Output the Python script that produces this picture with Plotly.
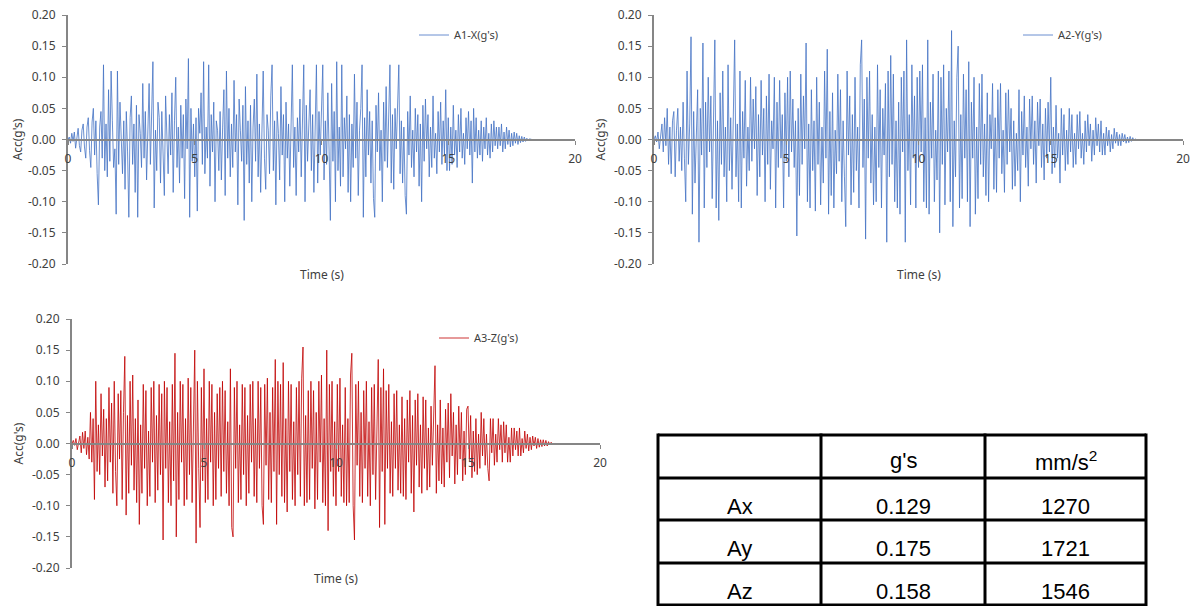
import numpy as np
import plotly.graph_objects as go

DT = 0.05  # sampling step of the hand-read traces (s)

a1_x = [
    0.000, 0.004, -0.006, 0.010, -0.003, 0.012, -0.014, 0.006, 0.018, -0.010, -0.020, 0.015, 0.025, -0.012, -0.030, 0.020, 0.035, -0.018, -0.045, 0.028,
    0.050, -0.025, 0.030, -0.055, -0.105, 0.020, 0.045, -0.030, 0.120, -0.050, 0.025, -0.060, 0.080, -0.035, 0.110, 0.030, -0.045, -0.015, -0.120, 0.110,
    -0.040, 0.060, 0.015, -0.055, 0.030, -0.080, 0.045, -0.020, -0.125, 0.035, 0.070, -0.040, 0.025, -0.085, 0.055, -0.125, 0.040, 0.010, -0.045, 0.090,
    -0.030, 0.045, -0.065, 0.020, 0.090, -0.040, 0.030, 0.125, -0.110, 0.015, -0.050, 0.060, 0.035, -0.070, 0.045, -0.020, -0.090, 0.070, 0.010, -0.055,
    0.040, -0.025, 0.075, -0.085, 0.030, 0.100, -0.045, 0.020, -0.070, 0.055, -0.030, 0.040, -0.095, 0.065, -0.015, 0.130, -0.125, 0.050, -0.035, 0.025,
    -0.060, 0.035, -0.115, 0.050, 0.010, 0.075, -0.040, 0.125, -0.055, 0.020, -0.030, 0.120, -0.075, 0.040, -0.020, 0.060, -0.100, 0.030, 0.015, -0.050,
    0.045, -0.065, 0.020, 0.080, -0.090, 0.110, -0.030, 0.050, -0.060, 0.025, -0.045, 0.095, -0.020, 0.040, -0.105, 0.065, 0.015, -0.035, 0.055, -0.130,
    0.085, -0.040, 0.030, -0.070, 0.055, -0.100, 0.020, 0.065, -0.035, 0.105, -0.060, 0.025, -0.085, 0.045, 0.110, -0.030, -0.080, 0.040, 0.015, -0.055,
    0.070, 0.120, -0.050, 0.030, -0.105, 0.045, 0.010, -0.065, 0.085, -0.025, 0.040, -0.100, 0.060, -0.030, 0.025, -0.075, 0.050, 0.120, -0.045, 0.020,
    -0.090, 0.035, -0.020, 0.065, -0.060, 0.030, 0.120, -0.100, 0.055, -0.035, 0.015, 0.080, -0.050, 0.040, -0.085, 0.025, 0.120, -0.070, 0.045, -0.025,
    0.060, 0.120, -0.065, 0.030, -0.040, 0.075, -0.020, -0.130, 0.090, -0.035, 0.045, -0.100, 0.125, -0.050, 0.020, -0.075, 0.120, -0.060, 0.035, -0.015,
    0.070, -0.085, 0.040, -0.100, 0.025, -0.045, 0.105, -0.030, 0.060, -0.090, 0.015, 0.050, 0.120, -0.125, 0.035, -0.060, 0.080, -0.025, 0.045, -0.070,
    0.030, -0.095, -0.125, 0.055, -0.020, 0.075, -0.050, 0.015, -0.100, 0.060, -0.035, 0.085, -0.045, 0.025, 0.120, -0.070, 0.040, -0.080, 0.050, -0.015,
    0.065, 0.120, -0.055, 0.030, -0.070, 0.020, -0.090, -0.120, 0.045, -0.025, 0.070, -0.045, 0.015, -0.060, 0.050, -0.020, 0.040, -0.075, 0.025, -0.100,
    0.055, -0.035, 0.065, -0.015, 0.040, -0.060, 0.020, -0.045, 0.070, -0.030, 0.010, -0.055, 0.045, -0.020, 0.060, -0.040, 0.030, -0.025, 0.080, -0.050,
    0.035, -0.050, 0.020, -0.040, 0.055, -0.025, 0.015, -0.045, 0.040, -0.020, 0.050, -0.030, 0.010, -0.040, 0.035, -0.015, 0.045, -0.025, 0.030, -0.070,
    0.050, -0.020, 0.035, -0.030, 0.015, -0.025, 0.030, -0.035, 0.020, -0.015, 0.035, -0.025, 0.010, -0.030, 0.025, -0.020, 0.030, -0.010, 0.020, -0.015,
    0.020, -0.010, 0.025, -0.020, 0.012, -0.015, 0.020, -0.008, 0.015, -0.012, 0.010, -0.010, 0.012, -0.006, 0.010, -0.008, 0.006, -0.005, 0.005, -0.004,
    0.004, -0.003, 0.002, -0.002, 0.001, 0.000, 0.000,
]

a2_y = [
    0.000, 0.006, -0.004, 0.012, -0.015, 0.008, 0.025, -0.020, 0.035, -0.010, 0.050, -0.040, 0.020, -0.055, 0.030, 0.045, -0.060, 0.015, 0.050, -0.035,
    0.020, -0.050, 0.060, -0.030, -0.100, 0.110, -0.040, 0.025, 0.165, -0.120, 0.045, -0.070, 0.030, 0.080, -0.165, 0.050, -0.025, 0.155, -0.110, 0.060,
    -0.045, 0.100, -0.020, 0.070, -0.095, 0.040, 0.160, -0.110, 0.030, -0.130, 0.075, -0.040, 0.110, -0.060, 0.020, -0.100, 0.120, -0.050, 0.035, -0.080,
    0.050, 0.160, -0.060, 0.025, -0.100, 0.110, -0.110, 0.045, -0.030, 0.095, -0.075, 0.020, -0.050, 0.100, -0.035, 0.065, -0.015, 0.085, -0.090, 0.040,
    -0.060, 0.095, -0.025, 0.050, -0.100, 0.070, -0.040, 0.105, -0.080, 0.030, -0.015, 0.100, -0.110, 0.060, -0.045, 0.095, -0.030, 0.040, -0.110, 0.075,
    -0.035, 0.100, -0.060, 0.110, -0.020, 0.065, -0.045, 0.030, -0.155, 0.050, -0.090, 0.105, -0.040, 0.070, -0.015, 0.155, -0.100, 0.025, -0.110, 0.080,
    -0.050, 0.030, -0.115, 0.100, -0.040, 0.060, -0.105, 0.020, -0.070, 0.110, -0.030, 0.145, -0.120, 0.045, -0.090, 0.075, -0.110, 0.015, -0.055, 0.105,
    -0.035, 0.080, -0.100, 0.030, -0.060, -0.140, 0.110, -0.025, 0.070, -0.105, 0.040, -0.085, 0.100, -0.050, 0.020, -0.110, 0.120, 0.160, -0.045, 0.065,
    -0.160, 0.100, -0.030, 0.110, -0.070, 0.040, -0.105, 0.020, -0.100, 0.120, -0.045, 0.080, -0.110, 0.050, -0.025, 0.090, -0.165, 0.110, -0.060, 0.135,
    -0.040, 0.105, -0.100, 0.030, -0.110, 0.060, -0.120, 0.100, -0.020, 0.110, -0.165, 0.160, -0.050, 0.040, -0.105, 0.120, -0.030, 0.070, -0.110, 0.100,
    -0.045, 0.110, -0.020, 0.120, -0.100, 0.035, -0.110, 0.160, -0.120, 0.060, -0.030, 0.105, -0.100, 0.015, -0.065, 0.110, -0.150, 0.100, -0.040, 0.120,
    -0.105, 0.050, -0.020, 0.110, -0.100, 0.175, -0.140, 0.030, -0.060, 0.100, 0.150, -0.110, 0.040, -0.095, 0.105, -0.030, 0.080, -0.100, 0.125, -0.140,
    0.060, -0.030, 0.100, -0.120, 0.020, -0.095, 0.090, -0.040, 0.105, -0.060, 0.025, -0.090, 0.075, -0.100, 0.040, -0.015, 0.090, -0.080, 0.035, -0.085,
    0.080, -0.030, 0.090, -0.055, 0.015, -0.085, 0.075, -0.040, 0.080, -0.020, 0.050, -0.080, 0.030, -0.075, 0.010, -0.050, 0.080, -0.100, 0.045, -0.025,
    0.070, -0.045, 0.020, -0.075, 0.065, -0.015, 0.070, -0.040, 0.030, -0.070, 0.060, -0.010, 0.065, -0.045, 0.025, -0.065, 0.050, -0.030, 0.060, -0.020,
    0.100, -0.055, 0.020, -0.045, 0.055, -0.030, 0.010, -0.070, 0.050, -0.025, 0.040, -0.050, 0.015, -0.040, 0.050, -0.020, 0.040, -0.045, 0.010, -0.040,
    0.040, -0.015, 0.045, -0.030, 0.010, -0.040, 0.030, -0.020, 0.040, -0.010, 0.025, -0.035, 0.015, -0.025, 0.035, -0.010, 0.025, -0.020, 0.030, -0.025,
    0.010, -0.025, 0.020, -0.010, 0.015, -0.020, 0.008, -0.015, 0.018, -0.006, 0.012, -0.010, 0.008, -0.010, 0.010, -0.004, 0.008, -0.006, 0.004, -0.005,
    0.005, -0.003, 0.003, -0.002, 0.001, -0.001, 0.000,
]

a3_z = [
    0.000, 0.005, -0.003, 0.008, -0.010, 0.004, 0.012, -0.015, 0.018, -0.008, 0.020, -0.018, 0.010, -0.025, 0.050, -0.030, 0.040, -0.090, 0.100, -0.045,
    0.030, -0.050, 0.080, -0.020, 0.055, -0.070, 0.040, -0.060, 0.090, -0.030, 0.065, -0.080, 0.100, -0.045, -0.100, 0.080, -0.025, 0.085, -0.090, 0.050,
    0.140, -0.115, 0.045, -0.080, 0.100, -0.035, 0.110, -0.075, 0.040, -0.095, 0.070, -0.130, 0.030, -0.080, 0.095, -0.040, 0.085, -0.100, 0.020, -0.085,
    0.090, -0.030, 0.100, -0.095, 0.045, -0.075, 0.095, -0.050, 0.080, -0.155, 0.100, -0.040, 0.090, -0.095, 0.035, -0.100, 0.095, -0.060, 0.145, -0.150,
    0.050, -0.090, 0.100, -0.030, 0.095, -0.100, 0.040, -0.090, 0.105, -0.050, 0.090, -0.095, 0.030, 0.150, -0.160, 0.100, -0.040, -0.135, 0.090, -0.060,
    0.120, -0.095, 0.040, -0.090, 0.100, -0.030, 0.095, -0.100, 0.050, -0.090, 0.080, -0.040, 0.090, -0.085, 0.100, -0.045, 0.085, -0.080, 0.035, -0.100,
    0.120, -0.135, -0.150, 0.090, -0.040, 0.100, -0.095, 0.030, -0.090, 0.095, -0.050, 0.090, -0.100, 0.045, -0.080, 0.095, -0.030, 0.100, -0.085, 0.040,
    -0.095, 0.100, -0.040, 0.090, -0.100, -0.130, 0.095, -0.035, 0.105, -0.090, 0.050, -0.095, 0.090, -0.045, 0.135, -0.130, 0.100, -0.050, 0.095, -0.085,
    0.130, -0.095, 0.040, -0.110, 0.100, -0.045, 0.095, -0.090, 0.035, -0.100, 0.090, -0.050, 0.100, -0.085, 0.105, 0.155, -0.100, 0.045, -0.095, 0.085,
    -0.090, 0.100, -0.040, 0.085, -0.105, 0.050, -0.090, 0.100, -0.030, 0.110, -0.095, 0.040, -0.100, 0.150, -0.140, 0.095, -0.045, 0.100, -0.085, 0.035,
    -0.100, 0.095, -0.045, 0.105, -0.085, 0.030, -0.095, 0.090, -0.100, 0.040, -0.095, 0.110, 0.145, -0.100, -0.155, 0.095, -0.035, 0.100, -0.085, 0.050,
    -0.095, 0.085, -0.040, 0.100, -0.085, 0.035, -0.100, 0.090, -0.050, 0.095, -0.090, 0.040, 0.135, -0.135, 0.090, -0.045, 0.120, -0.130, 0.085, -0.040,
    0.095, -0.080, 0.035, -0.085, 0.080, -0.040, 0.085, -0.075, 0.030, -0.080, 0.075, -0.085, 0.040, -0.090, 0.070, -0.030, 0.085, -0.080, 0.045, -0.110,
    0.070, -0.035, 0.080, -0.070, 0.030, -0.080, 0.075, -0.040, 0.070, -0.075, 0.025, -0.070, 0.060, -0.035, 0.070, 0.125, -0.080, 0.030, -0.060, 0.070,
    -0.065, 0.025, -0.070, 0.055, -0.030, 0.065, -0.055, 0.080, -0.020, 0.050, -0.065, 0.030, -0.050, 0.060, -0.025, 0.050, -0.060, 0.020, -0.050, 0.055,
    0.060, -0.025, 0.045, -0.055, 0.020, -0.045, 0.040, -0.050, 0.015, -0.040, 0.050, -0.020, 0.040, -0.035, 0.015, -0.040, -0.060, 0.040, -0.015, 0.040,
    -0.035, 0.015, -0.030, 0.040, -0.010, 0.030, -0.030, 0.035, -0.015, 0.030, -0.030, 0.010, -0.030, 0.025, -0.020, 0.025, -0.010, 0.020, -0.020, 0.025,
    -0.020, 0.008, -0.015, 0.020, -0.008, 0.015, -0.012, 0.010, -0.010, 0.012, -0.004, 0.010, -0.008, 0.008, -0.006, 0.006, -0.005, 0.006, -0.004, 0.005,
    -0.004, 0.003, -0.002, 0.002, -0.001, 0.000, 0.000,
]

series_names = ["A1-X(g's)", "A2-Y(g's)", "A3-Z(g's)"]
series_colors = ["#4472C4", "#4472C4", "#C00000"]

x_ticks = [0, 5, 10, 15, 20]
y_ticks = [-0.20, -0.15, -0.10, -0.05, 0.00, 0.05, 0.10, 0.15, 0.20]
y_tick_text = ["-0.20", "-0.15", "-0.10", "-0.05", "0.00", "0.05", "0.10", "0.15", "0.20"]

table_header = ["", "g's", "mm/s<sup>2</sup>"]
table_rows = ["Ax", "Ay", "Az"]
peak_g = ["0.129", "0.175", "0.158"]
peak_mm = ["1270", "1721", "1546"]

W, H = 1194, 606
def px(v): return v / W
def py(v): return 1 - v / H

# panel boxes in pixels: (x_left, x_right, y_top, y_bottom)
panels = [(68, 575, 15, 264), (654, 1183, 15, 264), (72, 600, 319, 568)]
legend_pos = [(414, 35), (1018, 35), (434, 338)]
ytitle_x = [17, 600, 18]

AXIS_GREY = "#868686"
TXT = "#404040"
FONT = "Noto Sans, Open Sans, sans-serif"

fig = go.Figure()
data = [a1_x, a2_y, a3_z]
for i, ys in enumerate(data):
    t = np.arange(len(ys)) * DT
    sfx = "" if i == 0 else str(i + 1)
    fig.add_trace(go.Scatter(
        x=t, y=ys, mode="lines", name=series_names[i],
        line=dict(color=series_colors[i], width=0.8),
        xaxis="x" + sfx, yaxis="y" + sfx,
        legend="legend" + sfx, showlegend=True,
    ))

layout = dict(
    width=W, height=H, margin=dict(l=0, r=0, t=0, b=0, pad=0, autoexpand=False),
    paper_bgcolor="white", plot_bgcolor="white",
    font=dict(family=FONT, size=12, color=TXT),
    annotations=[], shapes=[], showlegend=True,
)
for i, (xl, xr, yt, yb) in enumerate(panels):
    sfx = "" if i == 0 else str(i + 1)
    layout["xaxis" + sfx] = dict(
        domain=[px(xl), px(xr)], range=[0, 20], tickvals=x_ticks,
        anchor="free", position=py((yt + yb) / 2), automargin=False,
        showline=True, linecolor=AXIS_GREY, linewidth=2,
        ticks="outside", ticklen=4, tickcolor=AXIS_GREY, tickwidth=1,
        ticklabelstandoff=4,
        showgrid=False, zeroline=False,
        tickfont=dict(family=FONT, size=12, color=TXT),
    )
    layout["yaxis" + sfx] = dict(
        domain=[py(yb), py(yt)], range=[-0.2, 0.2], automargin=False,
        tickvals=y_ticks, ticktext=y_tick_text,
        anchor="x" + sfx, showline=True, linecolor=AXIS_GREY, linewidth=2,
        ticks="outside", ticklen=4, tickcolor=AXIS_GREY, tickwidth=1,
        ticklabelstandoff=4,
        showgrid=False, zeroline=False,
        tickfont=dict(family=FONT, size=12, color=TXT),
    )
    lx, ly = legend_pos[i]
    layout["legend" + sfx] = dict(
        x=px(lx), y=py(ly), xanchor="left", yanchor="middle",
        bgcolor="rgba(0,0,0,0)", font=dict(family=FONT, size=11, color=TXT),
    )
    layout["annotations"].append(dict(
        text="Time (s)", x=px((xl + xr) / 2), y=py(yb + 10),
        xref="paper", yref="paper", showarrow=False,
        xanchor="center", yanchor="middle",
        font=dict(family=FONT, size=12, color=TXT),
    ))
    layout["annotations"].append(dict(
        text="Acc(g's)", x=px(ytitle_x[i]), y=py((yt + yb) / 2),
        xref="paper", yref="paper", showarrow=False, textangle=-90,
        xanchor="center", yanchor="middle",
        font=dict(family=FONT, size=12, color=TXT),
    ))

# ---- summary table (peak accelerations) ----
TFONT = "Liberation Sans, Arial, sans-serif"
col_edges = [658, 821, 985, 1146]
row_edges = [435, 478, 520, 563, 605]
text_offset = 7  # text sits a little below the row centre
for xe in col_edges:
    layout["shapes"].append(dict(type="line", xref="paper", yref="paper",
                                 x0=px(xe), x1=px(xe), y0=py(row_edges[0] - 1.5), y1=py(row_edges[-1] + 1.5),
                                 line=dict(color="black", width=3)))
for ye in row_edges:
    layout["shapes"].append(dict(type="line", xref="paper", yref="paper",
                                 x0=px(col_edges[0]), x1=px(col_edges[-1]), y0=py(ye), y1=py(ye),
                                 line=dict(color="black", width=3)))
table_cols = [[table_header[0]] + table_rows,
              [table_header[1]] + peak_g,
              [table_header[2]] + peak_mm]
for c, col in enumerate(table_cols):
    cx = (col_edges[c] + col_edges[c + 1]) / 2
    for r, txt in enumerate(col):
        if not txt:
            continue
        cy = (row_edges[r] + row_edges[r + 1]) / 2 + text_offset - (3 if r == 0 else 0)
        layout["annotations"].append(dict(
            text=txt, x=px(cx), y=py(cy), xref="paper", yref="paper",
            showarrow=False, xanchor="center", yanchor="middle",
            font=dict(family=TFONT, size=22, color="black"),
        ))

fig.update_layout(**layout)
fig.write_html("out.html")
